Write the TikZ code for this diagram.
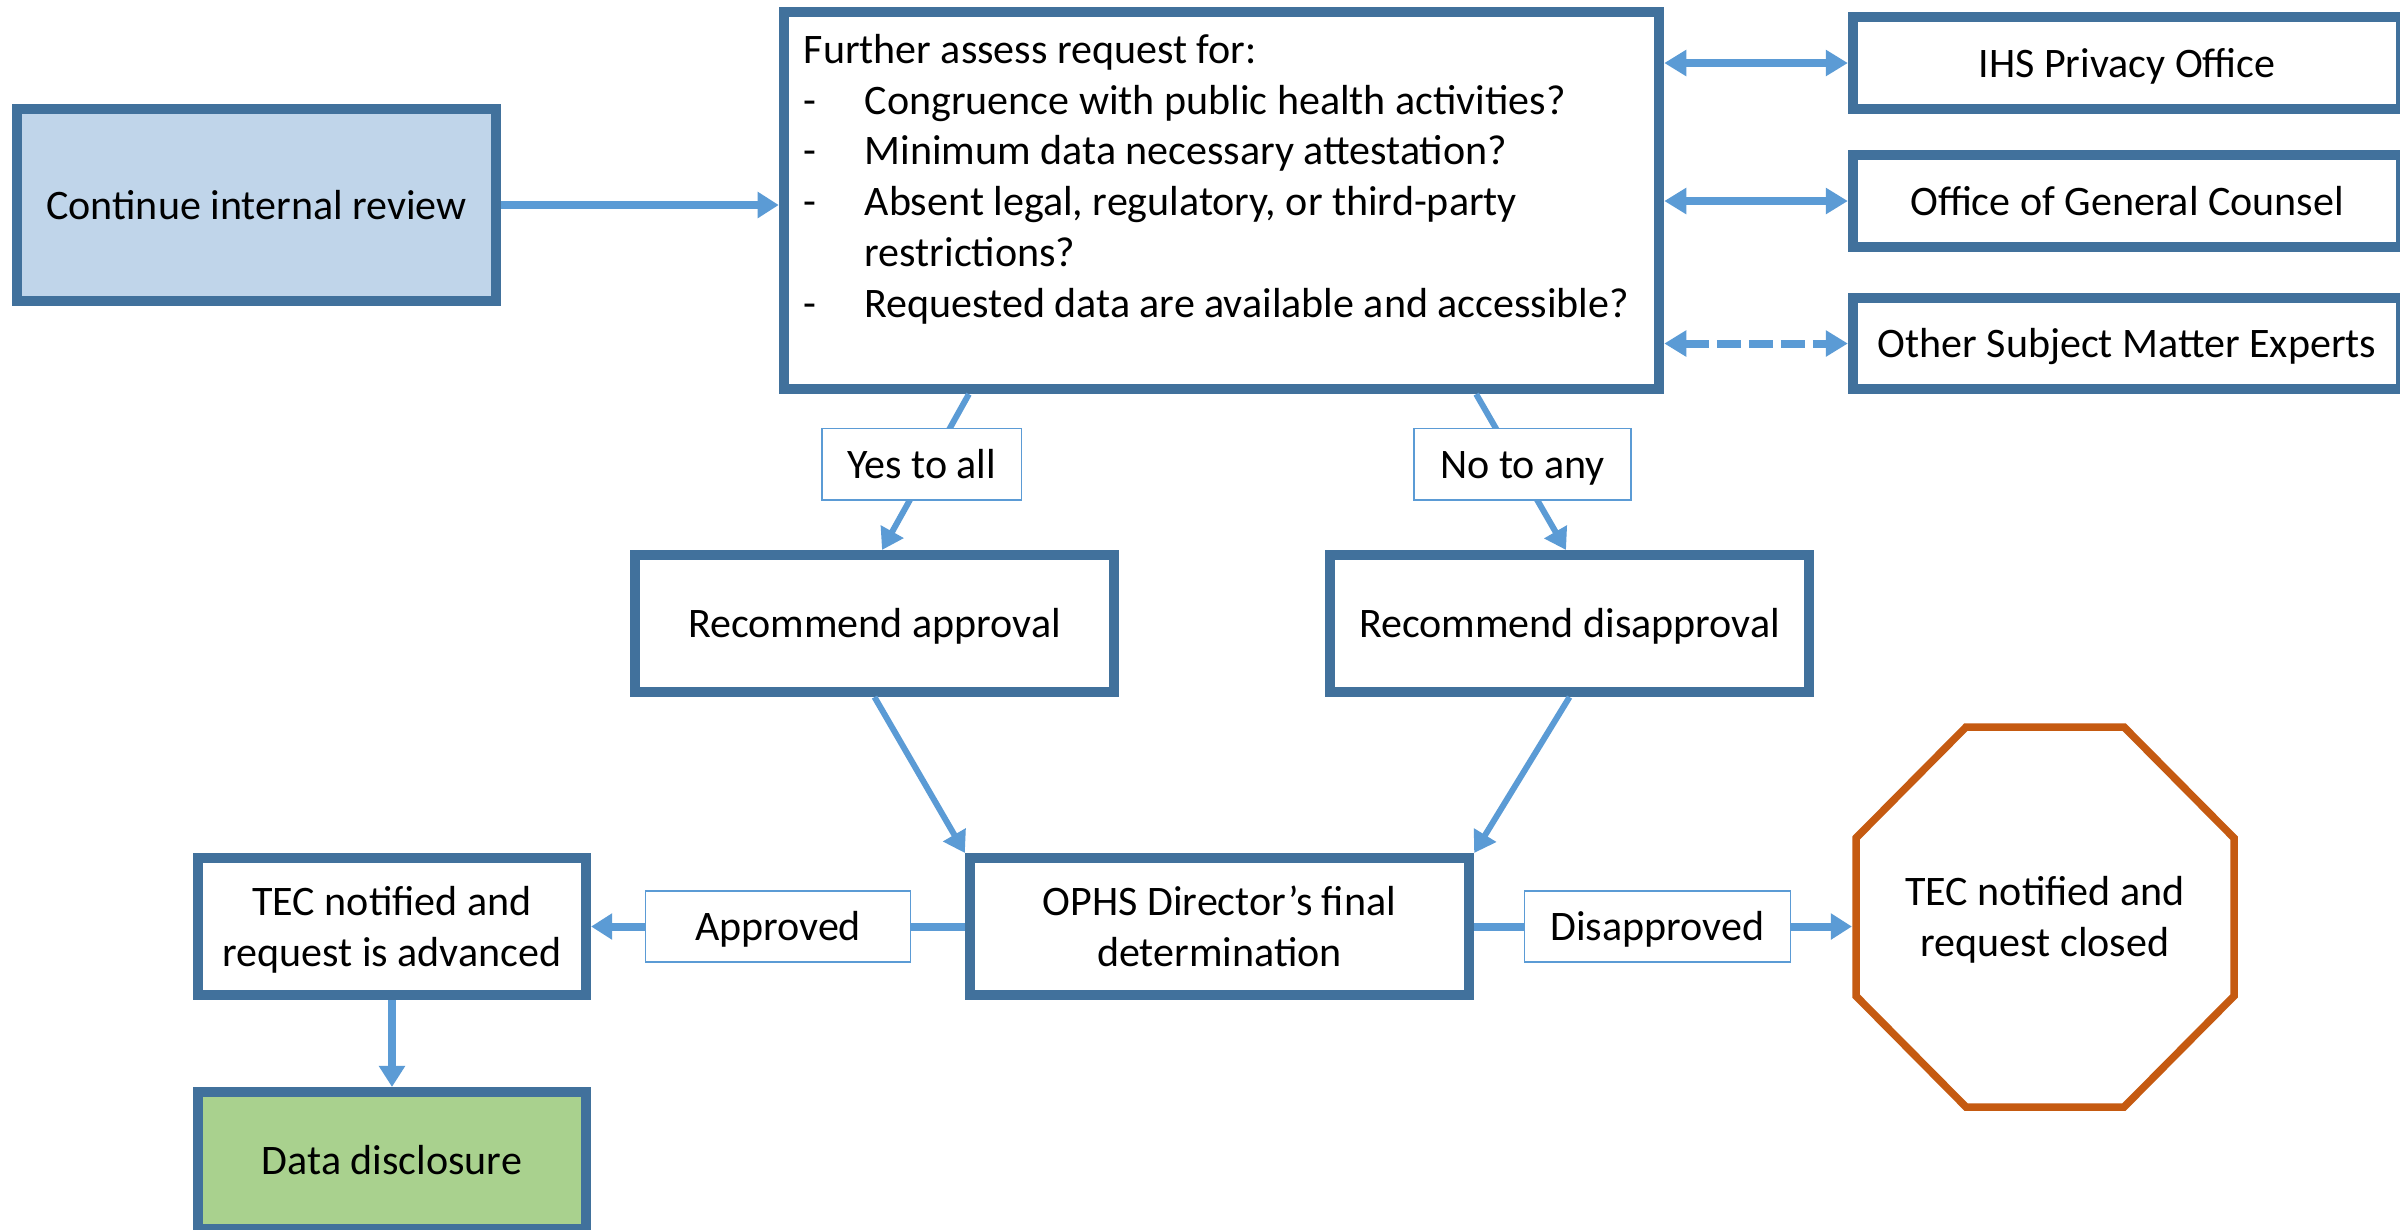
\documentclass[tikz,border=0pt]{standalone}
\usepackage{fontspec}
\setmainfont{Carlito}
\usetikzlibrary{arrows.meta,calc}
\definecolor{boxblue}{HTML}{41719C}
\definecolor{arrblue}{HTML}{5B9BD5}
\definecolor{lightfill}{HTML}{C0D5EA}
\definecolor{greenfill}{HTML}{A9D18E}
\definecolor{octo}{HTML}{C55A11}
\newcommand{\offstrut}{\rule[-3.2pt]{0pt}{14.6pt}}
\newcommand{\topstrut}{\rule{0pt}{11.4pt}}
\newcommand{\botstrut}{\rule[-3.2pt]{0pt}{3.2pt}}
\begin{document}
\begin{tikzpicture}[x=0.01cm,y=-0.01cm,
  every node/.style={font=\fontsize{11.95}{14.5}\selectfont, inner sep=0pt},
  strutted/.style={execute at begin node=\offstrut, execute at end node=\offstrut},
  boxline/.style={draw=boxblue, line width=0.1cm, fill=white, align=center},
  box/.style={boxline, strutted},
  lab/.style={draw=arrblue, line width=0.015cm, fill=white, minimum height=0.71cm, strutted},
  conn/.style={draw=arrblue, line width=0.08cm},
  slim/.style={draw=arrblue, line width=0.06cm},
  tipend/.style={-{Triangle[length=0.21cm,width=0.25cm]}},
  tipboth/.style={{Triangle[length=0.22cm,width=0.25cm]}-{Triangle[length=0.22cm,width=0.25cm]}},
]
\useasboundingbox (0,0) rectangle (2400,1229);
\fill[white] (0,0) rectangle (2400,1229);
\clip (0,0) rectangle (2400,1229);

% boxes
\node[box, fill=lightfill, minimum width=4.79cm, minimum height=1.92cm] (cont) at (256.5,205) {Continue internal review};
\node[box, minimum width=8.75cm, minimum height=3.77cm] (assess) at (1221.5,200.5) {};
\node[anchor=base west] (assesstext) at (803,63) {\begin{tabular}[t]{@{}p{0.61cm}@{}l@{}}
\multicolumn{2}{@{}l@{}}{Further assess request for:}\\
- & Congruence with public health activities?\\
- & Minimum data necessary attestation?\\
- & Absent legal, regulatory, or third-party\\
  & restrictions?\\
- & Requested data are available and accessible?
\end{tabular}};
\node[box, minimum width=5.48cm, minimum height=0.92cm] (ihs) at (2127,63) {IHS Privacy Office};
\node[box, minimum width=5.48cm, minimum height=0.92cm] (ogc) at (2127,201) {Office of General Counsel};
\node[box, minimum width=5.48cm, minimum height=0.91cm] (sme) at (2127,343.5) {Other Subject Matter Experts};
\node[box, minimum width=4.79cm, minimum height=1.37cm] (recA) at (874.5,623.5) {Recommend approval};
\node[box, minimum width=4.79cm, minimum height=1.37cm] (recD) at (1569.5,623.5) {Recommend disapproval};
\node[boxline, minimum width=4.99cm, minimum height=1.37cm] (ophs) at (1219.5,926.5) {\topstrut OPHS Director’s final\\determination\botstrut};
\node[boxline, minimum width=3.88cm, minimum height=1.37cm] (tecA) at (392,926.5) {\topstrut TEC notified and\\request is advanced\botstrut};
\node[box, fill=greenfill, minimum width=3.88cm, minimum height=1.37cm] (data) at (392,1160.5) {Data disclosure};
\node[minimum width=3.86cm, minimum height=3.9cm, outer sep=0pt, align=center] (closed) at (2045,917) {\topstrut TEC notified and\\request closed\botstrut};
\draw[octo, line width=0.075cm, line join=miter]
  ($(closed.center)+(-79,-190)$) -- ($(closed.center)+(79,-190)$) --
  ($(closed.center)+(189,-79)$) -- ($(closed.center)+(189,79)$) --
  ($(closed.center)+(79,190)$) -- ($(closed.center)+(-79,190)$) --
  ($(closed.center)+(-189,79)$) -- ($(closed.center)+(-189,-79)$) -- cycle;

% connectors
\draw[conn, tipend] (cont.east) -- (cont.east -| assess.west);
\draw[conn, tipboth] (ihs.west -| assess.east) -- (ihs.west);
\draw[conn, tipboth] (ogc.west -| assess.east) -- (ogc.west);
\draw[conn, tipboth, dash pattern=on 0.24cm off 0.08cm] (sme.west -| assess.east) -- (sme.west);
\draw[slim, tipend] ([xshift=-2.525cm]assess.south) -- node[lab, pos=0.45, xshift=-0.08cm, minimum width=1.99cm] (yes) {Yes to all} ([xshift=0.075cm]recA.north);
\draw[slim, tipend] ([xshift=2.545cm]assess.south) -- node[lab, pos=0.45, xshift=0.06cm, minimum width=2.17cm] (no) {No to any} ([xshift=-0.035cm]recD.north);
\draw[slim, tipend] (recA.south) -- (ophs.north west);
\draw[slim, tipend] (recD.south) -- (ophs.north east);
\draw[conn, tipend] (ophs.west) -- node[lab, midway, minimum width=2.65cm] (appr) {Approved} (tecA.east);
\draw[conn, tipend] (ophs.east) -- node[lab, pos=0.485, minimum width=2.66cm] (disappr) {Disapproved} (ophs.east -| closed.west);
\draw[conn, tipend] (tecA.south) -- (data.north);
\end{tikzpicture}
\end{document}
